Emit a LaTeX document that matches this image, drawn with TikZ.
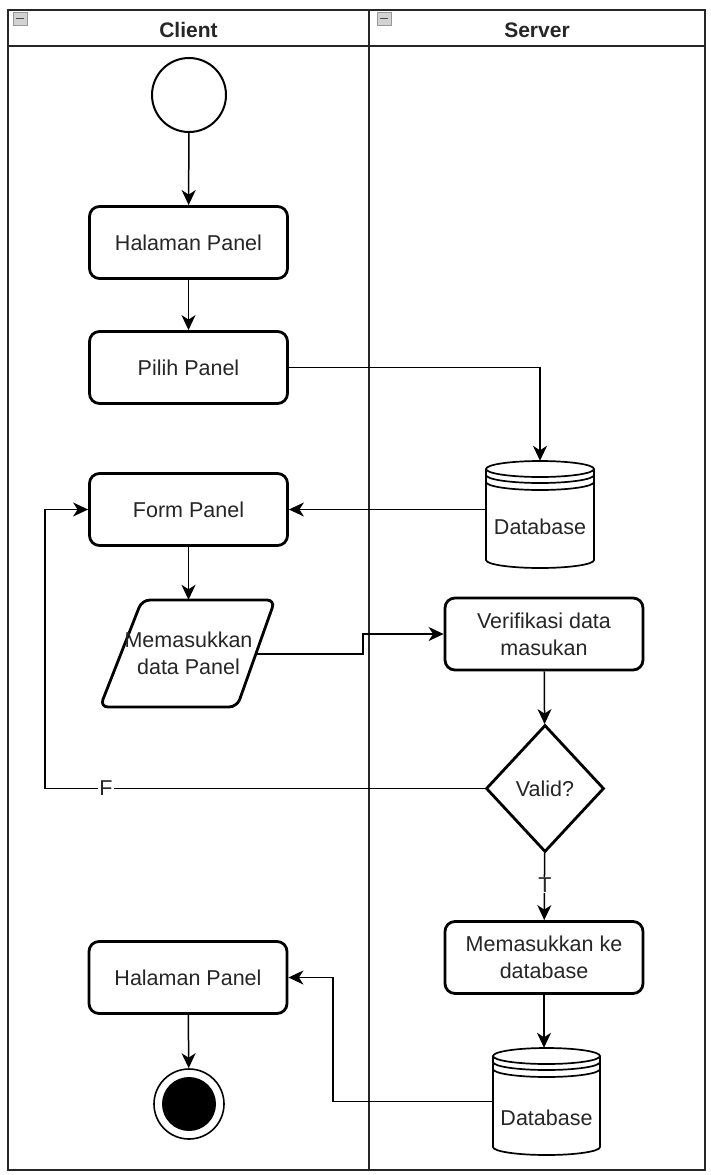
\documentclass[tikz,border=0pt]{standalone}
\usepackage{fontspec}
\setmainfont{Liberation Sans}
\usetikzlibrary{arrows.meta,shapes.geometric,calc}
\begin{document}
\begin{tikzpicture}[x=1pt,y=-1pt,
  txt/.style={font=\fontsize{21.5}{27}\selectfont, text=black!85},
  stepbox/.style={txt, draw, line width=2.8pt, rounded corners=10pt, minimum width=198pt, minimum height=72pt, inner sep=0pt, align=center, fill=white},
  lane/.style={line width=1.6pt, draw=black!85},
  conn/.style={line width=1.5pt, -{Stealth[length=15pt,width=14pt,inset=4.5pt]}},
  dbline/.style={line width=1.7pt},
  lbl/.style={txt, fill=white, inner sep=1pt},
  icon/.style={draw=gray!80, fill=gray!35, line width=1pt}
]
\useasboundingbox (0,0) rectangle (710,1175);
\fill[white] (0,0) rectangle (710,1175);

% swimlanes
\draw[lane] (8,10) rectangle (705,1170);
\draw[lane] (8,46) -- (705,46);
\draw[lane] (369,10) -- (369,1170);
\node[txt, font=\fontsize{21}{24}\selectfont\bfseries] (hclient) at (188.5,30) {Client};
\node[txt, font=\fontsize{21}{24}\selectfont\bfseries] (hserver) at (537,30) {Server};
\draw[icon] (13,12) rectangle (27,25);
\draw[black!70, line width=1.6pt] (16,18.5) -- (24,18.5);
\draw[icon] (377,12) rectangle (391,25);
\draw[black!70, line width=1.6pt] (380,18.5) -- (388,18.5);

% client nodes
\node[circle, draw, line width=2pt, minimum size=74pt, inner sep=0pt] (start) at (189,95) {};
\node[stepbox] (h1) at (188.5,242.5) {Halaman Panel};
\node[stepbox] (pilih) at (188.5,367.5) {Pilih Panel};
\node[stepbox] (form) at (188.5,509.5) {Form Panel};
\draw[line width=2.8pt, rounded corners=8pt, fill=white] (208.5,600) -- (275,600) -- (237,707) -- (100,707) -- (142,600) -- cycle;
\node[txt, align=center, minimum width=100pt, minimum height=107pt, inner sep=0pt] (para) at (188.5,653.5) {Memasukkan\\data Panel};
\coordinate (paraE) at (256,654);
\node[stepbox] (h2) at (188,977.5) {Halaman Panel};
\node[circle, draw, line width=1.6pt, minimum size=70pt, inner sep=0pt] (end) at (189,1104) {};
\fill (end.center) circle[radius=27pt];

% server nodes
\node[stepbox] (verif) at (544,634) {Verifikasi data\\masukan};
\node[diamond, draw, line width=2.8pt, minimum width=118pt, minimum height=127pt, inner sep=0pt, txt, fill=white] (dia) at (545,788.5) {Valid?};
\node[stepbox] (masuk) at (544,957.5) {Memasukkan ke\\database};

% database 1
\node[minimum width=108pt, minimum height=107pt, inner sep=0pt] (db1) at (540,514.5) {};
\draw[dbline, fill=white] (486,469) -- (486,560) arc[start angle=180,end angle=360,x radius=54pt,y radius=8pt] -- (594,469);
\draw[dbline, fill=white] (540,469) ellipse[x radius=54pt, y radius=8pt];
\draw[dbline] (486,475) arc[start angle=180,end angle=360,x radius=54pt,y radius=8pt];
\draw[dbline] (486,482) arc[start angle=180,end angle=360,x radius=54pt,y radius=8pt];
\node[txt] (db1t) at (540,527) {Database};

% database 2
\node[minimum width=107pt, minimum height=107pt, inner sep=0pt] (db2) at (546.5,1101.5) {};
\draw[dbline, fill=white] (493,1056) -- (493,1147) arc[start angle=180,end angle=360,x radius=53.5pt,y radius=8pt] -- (600,1056);
\draw[dbline, fill=white] (546.5,1056) ellipse[x radius=53.5pt, y radius=8pt];
\draw[dbline] (493,1062) arc[start angle=180,end angle=360,x radius=53.5pt,y radius=8pt];
\draw[dbline] (493,1069) arc[start angle=180,end angle=360,x radius=53.5pt,y radius=8pt];
\node[txt] (db2t) at (546.5,1118) {Database};

% connectors
\coordinate (c1) at (363,645);
\coordinate (c2) at (333,1040);
\coordinate (c3) at (45,650);
\draw[conn] (start) -- (h1);
\draw[conn] (h1) -- (pilih);
\draw[conn] (pilih.east) -| (db1.north);
\draw[conn] (form.east -| db1.west) -- (form.east);
\draw[conn] (form) -- (para.north);
\draw[conn] (paraE) -| (c1) |- (verif.west);
\draw[conn] (verif) -- (dia);
\draw[conn] (dia.west) -| (c3) |- (form.west);
\node[lbl] (flab) at (106,788.5) {F};
\draw[conn] (dia) -- (masuk);
\node[lbl] (tlab) at (545,885) {T};
\draw[conn] (masuk.south) -- (masuk.south |- db2.north);
\draw[conn] (db2.west) -| (c2) |- (h2.east);
\draw[conn] (h2) -- (end);
\end{tikzpicture}
\end{document}
